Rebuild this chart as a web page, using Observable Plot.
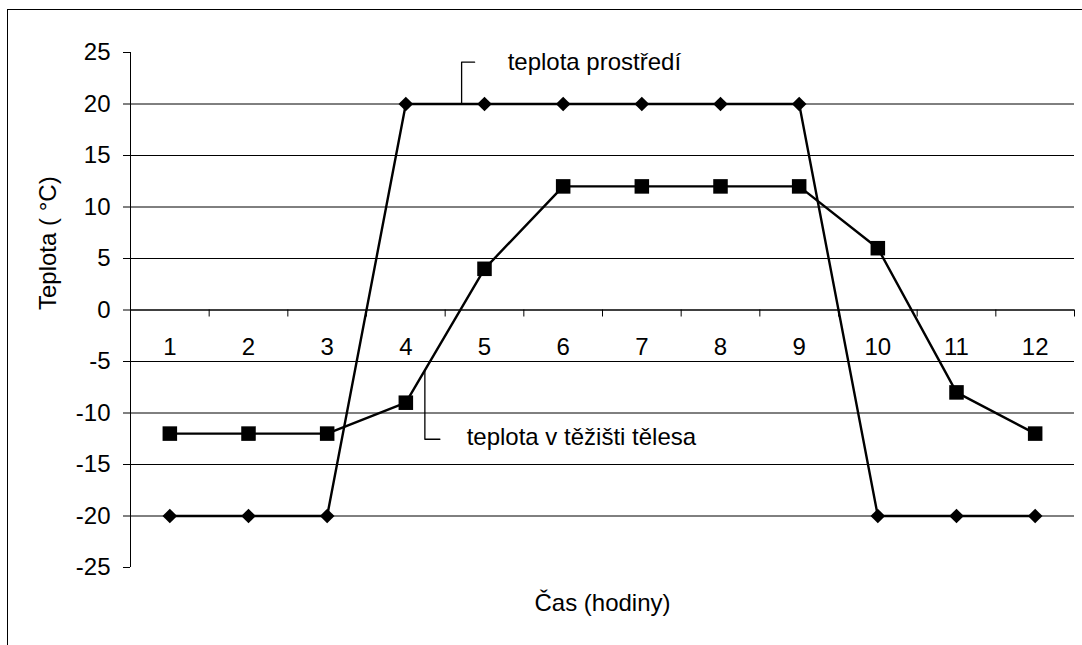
<!DOCTYPE html>
<html>
<head>
<meta charset="utf-8">
<script src="https://cdn.jsdelivr.net/npm/d3@7"></script>
<script src="https://cdn.jsdelivr.net/npm/@observablehq/plot@0.6"></script>
<style>
  html, body { margin: 0; padding: 0; background: #fff; overflow: hidden; }
  #wrap { position: relative; width: 1082px; height: 645px; overflow: hidden; }
  #border { position: absolute; left: 7px; top: 9px; width: 1200px; height: 800px; border: 1px solid #000; pointer-events: none; }
</style>
</head>
<body>
<div id="wrap"><div id="chart"></div><div id="border"></div></div>
<script>
// Data
const hours = [1, 2, 3, 4, 5, 6, 7, 8, 9, 10, 11, 12];
const ambientTemp = [-20, -20, -20, 20, 20, 20, 20, 20, 20, -20, -20, -20];
const coreTemp = [-12, -12, -12, -9, 4, 12, 12, 12, 12, 6, -8, -12];
const yTickValues = [-25, -20, -15, -10, -5, 0, 5, 10, 15, 20, 25];
const gridValues = [-20, -15, -10, -5, 5, 10, 15, 20];
const xTickLabels = ["1", "2", "3", "4", "5", "6", "7", "8", "9", "10", "11", "12"];
const categoryBounds = [0.5, 1.5, 2.5, 3.5, 4.5, 5.5, 6.5, 7.5, 8.5, 9.5, 10.5, 11.5, 12.5];
const yTitle = "Teplota ( °C)";
const xTitle = "Čas (hodiny)";
// Annotation callouts (in data units)
const labelAmbient = {text: "teplota prostředí", x: 4.709, yLine: 20, yTop: 24.06, xEnd: 4.874, xText: 5.294, yText: 24.06};
const labelCore = {text: "teplota v těžišti tělesa", x: 4.242, yLine: -5.85, yBottom: -12.55, xEnd: 4.433, xText: 4.773, yText: -12.4};

const ambient = hours.map((h, i) => ({h, t: ambientTemp[i]}));
const core = hours.map((h, i) => ({h, t: coreTemp[i]}));
const xLab = hours.map((h, i) => ({h, label: xTickLabels[i]}));

const font = "'Liberation Sans', Arial, sans-serif";

const chart = Plot.plot({
  width: 1082,
  height: 645,
  marginLeft: 130,
  marginRight: 8,
  marginTop: 52,
  marginBottom: 78,
  style: {fontFamily: font, fontSize: "24px", background: "white", color: "black", overflow: "visible"},
  x: {domain: [0.5, 12.5], axis: null},
  y: {domain: [-25, 25], axis: null},
  marks: [
    Plot.ruleY(gridValues, {x1: 0.5, x2: 12.5, stroke: "#000", strokeWidth: 1}),
    Plot.ruleY([0], {x1: 0.5, x2: 12.5, stroke: "#000", strokeWidth: 1.3}),
    Plot.ruleX([0.5], {y1: -25, y2: 25, stroke: "#000", strokeWidth: 1}),
    Plot.axisY({ticks: yTickValues, tickSize: 7, tickPadding: 13, tickFormat: d => String(d), label: null, fontSize: 24, stroke: "#000"}),
    Plot.ruleX(categoryBounds, {y1: 0, y2: -0.68, stroke: "#000", strokeWidth: 1}),
    Plot.text(xLab, {x: "h", y: () => 0, text: "label", dy: 37.5, fontSize: 24, fill: "#000"}),
    Plot.text([xTitle], {frameAnchor: "bottom", dy: 43, fontSize: 24, fill: "#000"}),
    Plot.text([yTitle], {frameAnchor: "left", rotate: -90, dx: -82, fontSize: 24, fill: "#000"}),
    // leader lines
    Plot.line([[labelAmbient.x, labelAmbient.yLine], [labelAmbient.x, labelAmbient.yTop], [labelAmbient.xEnd, labelAmbient.yTop]], {stroke: "#000", strokeWidth: 1.3}),
    Plot.line([[labelCore.x, labelCore.yLine], [labelCore.x, labelCore.yBottom], [labelCore.xEnd, labelCore.yBottom]], {stroke: "#000", strokeWidth: 1.3}),
    Plot.text([labelAmbient], {x: "xText", y: "yText", text: "text", textAnchor: "start", fontSize: 24, fill: "#000"}),
    Plot.text([labelCore], {x: "xText", y: "yText", text: "text", textAnchor: "start", fontSize: 24, fill: "#000"}),
    // series
    Plot.line(ambient, {x: "h", y: "t", stroke: "#000", strokeWidth: 2.4}),
    Plot.line(core, {x: "h", y: "t", stroke: "#000", strokeWidth: 2.4}),
    Plot.dot(ambient, {x: "h", y: "t", symbol: "diamond2", r: 6.6, fill: "#000", stroke: "none"}),
    Plot.dot(core, {x: "h", y: "t", symbol: "square", r: 8.2, fill: "#000", stroke: "none"})
  ]
});
document.getElementById("chart").appendChild(chart);
</script>
</body>
</html>
